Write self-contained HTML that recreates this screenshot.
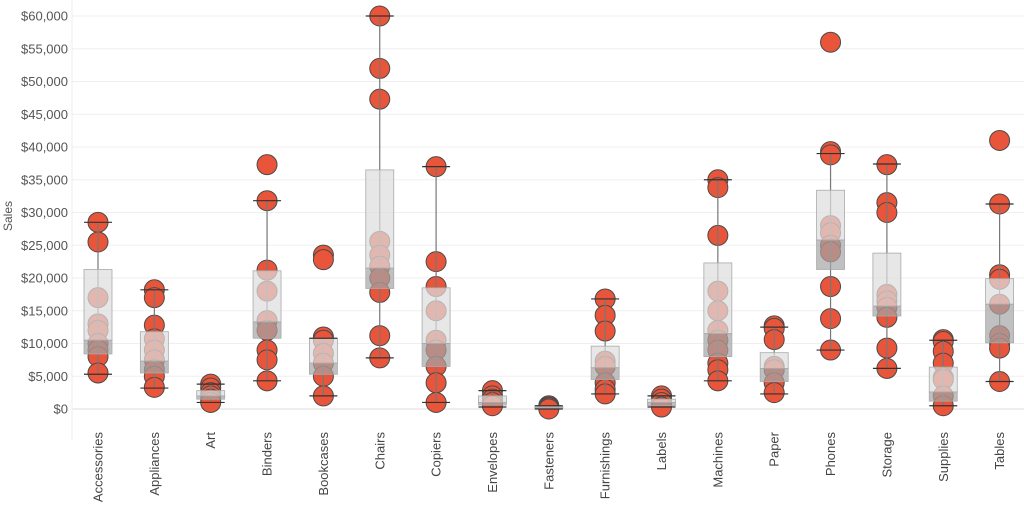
<!DOCTYPE html>
<html><head><meta charset="utf-8"><style>
html,body{margin:0;padding:0;background:#fff;}
svg{display:block;font-family:"Liberation Sans",sans-serif;}
</style></head><body>
<svg id="c" width="1024" height="524" viewBox="0 0 1024 524"></svg>
<script>
const S=document.getElementById('c');const NS='http://www.w3.org/2000/svg';
function el(t,a,txt){const e=document.createElementNS(NS,t);for(const k in a)e.setAttribute(k,a[k]);if(txt!=null)e.textContent=txt;S.appendChild(e);return e;}
const y=v=>409-v*393/60;
// grid
for(let v=0;v<=60;v+=5){el('line',{x1:72,x2:1024,y1:y(v),y2:y(v),stroke:v==0?'#ddd':'#efefef','stroke-width':1});
el('text',{x:68,y:y(v)+4.5,'text-anchor':'end','font-size':13,fill:'#555'},'$'+(v==0?'0':v+',000'));}
el('line',{x1:72,x2:72,y1:0,y2:440,stroke:'#eee'});
el('text',{x:0,y:0,transform:'translate(12,216) rotate(-90)','text-anchor':'middle','font-size':12,fill:'#555'},'Sales');
const D=[
['Accessories',[28.5,25.5,17,13,12,10,9,8,5.5],5.3,28.5,8.4,10.5,21.3],
['Appliances',[18.2,17,12.8,10.7,9,7.5,6,5,3.3],3.2,18.2,5.5,7.3,11.8],
['Art',[3.8,3.2,2.5,2,1.5,1],1,3.8,1.5,2,2.8],
['Binders',[37.3,31.8,21.2,18,13.5,12,9,7.5,4.3],4.3,31.8,10.8,13.3,21.1],
['Bookcases',[23.5,22.8,11,10.5,8.5,7,5,2],2,10.8,5.3,7,10.8],
['Chairs',[60,52,47.3,25.6,23.5,21.8,20,17.8,11.2,7.8],7.8,60,18.4,21.5,36.5],
['Copiers',[37,22.5,18.7,15,10.5,9,6.5,4,1],1,37,6.5,10,18.5],
['Envelopes',[2.8,2,1.5,1,0.5],0.3,2.8,0.6,1,2],
['Fasteners',[0.5,0.3,0.2,0],0,0.5,0.1,0.2,0.4],
['Furnishings',[16.8,14.3,11.9,7.3,6.5,4,3,2.3],2.3,16.8,4.5,6.3,9.6],
['Labels',[2,1.5,1,0.3],0.3,2,0.5,1,1.5],
['Machines',[35,33.8,26.5,18,15,12,10.5,9,7,6,4.3],4.3,35,8,11.5,22.3],
['Paper',[12.7,12.3,10.6,6.5,6,4,2.5],2.3,12.5,4.2,6.2,8.6],
['Phones',[56,39.3,38.8,28,26.9,25,24,18.7,13.8,9],9,39,21.3,25.8,33.4],
['Storage',[37.3,31.5,30,17.5,16.5,15.5,14,9.3,6.2],6.2,37.4,14.2,15.7,23.8],
['Supplies',[10.6,10.3,8.8,7,4.8,4.5,2,0.5],0.5,10.5,1.2,2.6,6.4],
['Tables',[41,31.3,20.5,19.8,16,11.2,10,9.3,4.2],4.2,31.3,10.1,16,19.9]];
D.forEach((d,i)=>{const x=98+i*56.35;const[n,pts,lo,hi,q1,md,q3]=d;
pts.forEach(p=>el('circle',{cx:x,cy:y(p),r:10,fill:'#e8553a',stroke:'#4a4a4a','stroke-width':1}));
el('line',{x1:x,x2:x,y1:y(hi),y2:y(lo),stroke:'#777','stroke-width':1.2});
el('rect',{x:x-14,y:y(q3),width:28,height:y(md)-y(q3),fill:'rgba(222,222,222,0.72)',stroke:'#aaa','stroke-width':0.8});
el('rect',{x:x-14,y:y(md),width:28,height:y(q1)-y(md),fill:'rgba(165,165,165,0.7)',stroke:'#aaa','stroke-width':0.8});
[hi,lo].forEach(v=>el('line',{x1:x-14,x2:x+14,y1:y(v),y2:y(v),stroke:'#333','stroke-width':1.2}));
el('text',{x:0,y:0,transform:`translate(${x+4.5},432) rotate(-90)`,'text-anchor':'end','font-size':13,fill:'#444'},n);
});
</script>
</body></html>
